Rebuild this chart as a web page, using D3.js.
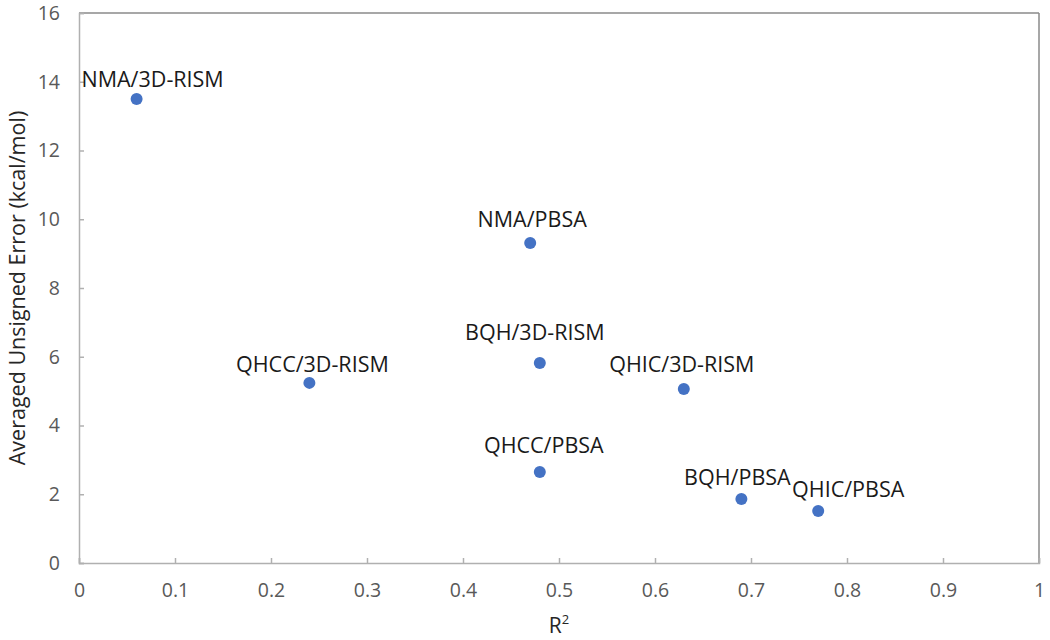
<!DOCTYPE html>
<html><head><meta charset="utf-8">
<script src="https://cdn.jsdelivr.net/npm/d3@7"></script>
<style>body{margin:0;background:#fff}svg{display:block}</style>
</head><body><svg id="c" width="1050" height="640"></svg>
<script>
const labels = ["NMA/3D-RISM","NMA/PBSA","BQH/3D-RISM","QHCC/3D-RISM","QHIC/3D-RISM","QHCC/PBSA","BQH/PBSA","QHIC/PBSA"];
const r2 = [0.06,0.47,0.48,0.24,0.63,0.48,0.69,0.77];
const aue = [13.5,9.31,5.82,5.24,5.06,2.65,1.86,1.51];
const xTicks = [0,0.1,0.2,0.3,0.4,0.5,0.6,0.7,0.8,0.9,1];
const yTicks = [0,2,4,6,8,10,12,14,16];
// label offsets (style, pixels)
const labelDx = [16,2,-5,3,-2,4,-4,30];
const labelDy = [12,16,23,11,17,19,14,14];

const svg = d3.select("#c");
const m = {l:79,t:13,r:1039,b:563};
const x = d3.scaleLinear().domain([0,1]).range([m.l,m.r]);
const y = d3.scaleLinear().domain([0,16]).range([m.b,m.t]);
const font = "'Open Sans', sans-serif";

svg.append("line").attr("x1",m.l).attr("x2",m.r).attr("y1",m.t).attr("y2",m.t).attr("stroke","#8a8a8a").attr("stroke-width",1.5);
svg.append("line").attr("x1",m.r).attr("x2",m.r).attr("y1",m.t).attr("y2",m.b).attr("stroke","#8a8a8a").attr("stroke-width",1.5);

const xa = svg.append("g").attr("transform",`translate(0,${m.b})`)
  .call(d3.axisBottom(x).tickValues(xTicks).tickSize(-5).tickPadding(20).tickFormat(d3.format("")));
const ya = svg.append("g").attr("transform",`translate(${m.l},0)`)
  .call(d3.axisLeft(y).tickValues(yTicks).tickSize(-5).tickPadding(19).tickFormat(d3.format("")));
[xa,ya].forEach(a=>{
  a.selectAll("path,line").attr("stroke","#b0b0b0").attr("stroke-width",1.5);
  a.selectAll("text").attr("fill","#595959").attr("font-family",font).attr("font-size",19.5);
});

svg.append("g").selectAll("circle").data(labels).join("circle")
  .attr("cx",(d,i)=>x(r2[i])).attr("cy",(d,i)=>y(aue[i])).attr("r",6).attr("fill","#4472C4");

svg.append("g").selectAll("text").data(labels).join("text")
  .attr("x",(d,i)=>x(r2[i])+labelDx[i]).attr("y",(d,i)=>y(aue[i])-labelDy[i])
  .attr("text-anchor","middle").attr("font-family",font).attr("font-size",21.5).attr("fill","#1a1a1a")
  .text(d=>d);

svg.append("text").attr("transform",`translate(25,${(m.t+m.b)/2}) rotate(-90)`)
  .attr("text-anchor","middle").attr("font-family",font).attr("font-size",21.5).attr("fill","#262626")
  .text("Averaged Unsigned Error (kcal/mol)");
const xt = svg.append("text").attr("x",(m.l+m.r)/2).attr("y",633).attr("text-anchor","middle")
  .attr("font-family",font).attr("font-size",21).attr("fill","#262626");
xt.append("tspan").text("R");
xt.append("tspan").attr("font-size",13).attr("dy",-9).text("2");
</script></body></html>
